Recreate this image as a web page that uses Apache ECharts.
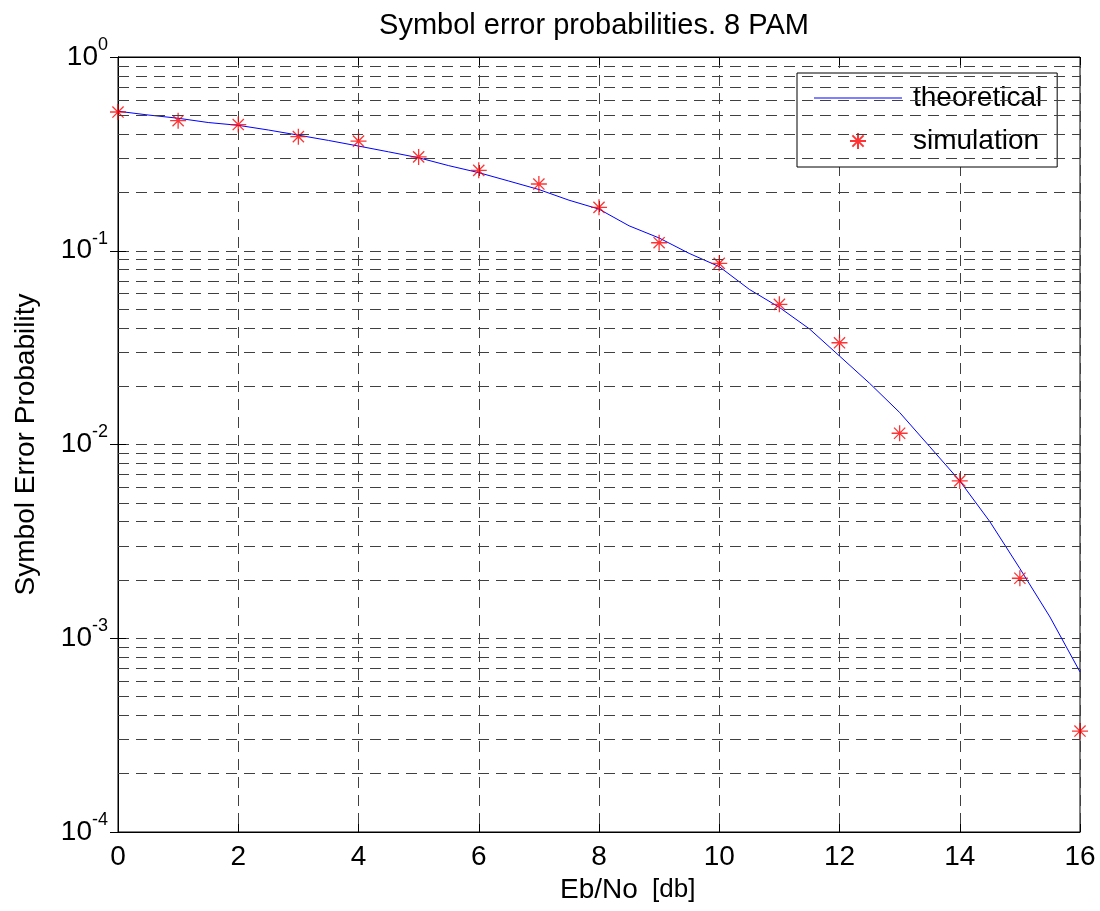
<!DOCTYPE html>
<html>
<head>
<meta charset="utf-8">
<script src="https://cdn.jsdelivr.net/npm/echarts@6/dist/echarts.min.js"></script>
<style>
html,body{margin:0;padding:0;background:#fff;}
#chart{width:1100px;height:911px;}
</style>
</head>
<body>
<div id="chart"></div>
<script>
// ---- data ----
var theoX = [0,0.5,1,1.5,2,2.5,3,3.5,4,4.5,5,5.5,6,6.5,7,7.5,8,8.5,9,9.5,10,10.5,11,11.5,12,12.5,13,13.5,14,14.5,15,15.5,16];
var theoY = [0.525,0.502,0.483,0.459,0.444,0.420,0.395,0.371,0.347,0.324,0.302,0.275,0.253,0.229,0.207,0.1824,0.164,0.1345,0.1164,0.0969,0.0828,0.0632,0.0510,0.0395,0.02862,0.0207,0.01463,0.00975,0.00649,0.00400,0.00229,0.001288,0.000670];
var simX = [0,1,2,3,4,5,6,7,8,9,10,11,12,13,14,15,16];
var simY = [0.52,0.469,0.448,0.388,0.368,0.305,0.260,0.221,0.1675,0.110,0.0861,0.0529,0.0335,0.01143,0.00649,0.00204,0.000332];
var minorGrid = [];
var decades = [1e-4,1e-3,1e-2,1e-1];
var minorMult = [2,3,4,5,6,7,8,9];
decades.forEach(function(d){ minorMult.forEach(function(m){ minorGrid.push(+(d*m).toPrecision(3)); }); });

var FONT = '"Liberation Sans", Arial, Helvetica, sans-serif';
var GRID_COLOR = '#404040';
var DASH = [11,7];

function pair(xs, ys){ return xs.map(function(x,i){ return [x, ys[i]]; }); }

var chart = echarts.init(document.getElementById('chart'), null, {renderer:'canvas'});
var starPath = 'path://M0,-8 L0,8 M-8,0 L8,0 M-5.6,-5.6 L5.6,5.6 M-5.6,5.6 L5.6,-5.6';
var lineIcon = 'path://M0,0 L88,0 L88,1.2 L0,1.2 Z';

var option = {
  animation: false,
  backgroundColor: '#fff',
  textStyle: {fontFamily: FONT},
  title: {
    text: 'Symbol error probabilities. 8 PAM',
    left: 589, top: 6, textAlign: 'center',
    textStyle: {fontFamily: FONT, fontSize: 29, fontWeight: 'normal', color: '#000'}
  },
  grid: {left: 118, right: 20, top: 57, bottom: 79, show: true, borderColor: '#000', borderWidth: 1, backgroundColor: '#fff'},
  legend: {
    orient: 'vertical', left: 797, top: 73,
    backgroundColor: '#fff', borderColor: '#000', borderWidth: 1,
    padding: [10, 15, 11, 17],
    itemWidth: 88, itemHeight: 16, itemGap: 13,
    textStyle: {fontFamily: FONT, fontSize: 28, color: '#000', lineHeight: 30, padding: [0, 0, 0, 6]},
    data: [{name: 'theoretical', icon: lineIcon, itemStyle: {color: '#0000ff', borderWidth: 0}}, {name: 'simulation'}]
  },
  xAxis: [{
    type: 'value', min: 0, max: 16, interval: 2,
    name: 'Eb/No', nameLocation: 'middle', nameGap: 44,
    nameTextStyle: {fontFamily: FONT, fontSize: 28, color: '#000'},
    axisLine: {show: true, lineStyle: {color: '#000', width: 1}},
    axisTick: {show: true, inside: true, length: 8, lineStyle: {color: '#000'}},
    axisLabel: {fontFamily: FONT, fontSize: 28, color: '#000', margin: 11},
    splitLine: {show: true, lineStyle: {type: DASH, color: GRID_COLOR, width: 1}}
  }, {
    type: 'value', min: 0, max: 16, interval: 2, position: 'top',
    axisLine: {show: true, lineStyle: {color: '#000'}},
    axisTick: {show: true, inside: true, length: 8, lineStyle: {color: '#000'}},
    axisLabel: {show: false}, splitLine: {show: false}
  }],
  yAxis: [{
    type: 'log', logBase: 10, min: 1e-4, max: 1, interval: 1,
    name: 'Symbol Error Probability', nameLocation: 'middle', nameGap: 78,
    nameTextStyle: {fontFamily: FONT, fontSize: 28, color: '#000'},
    axisLine: {show: true, lineStyle: {color: '#000', width: 1}},
    axisTick: {show: true, inside: true, length: 8, lineStyle: {color: '#000'}},
    axisLabel: {
      margin: 10,
      formatter: function(v){ var e = Math.round(Math.log10(v)); return '{b|10}{s|' + e + '}'; },
      rich: {
        b: {fontFamily: FONT, fontSize: 28, color: '#000', lineHeight: 44},
        s: {fontFamily: FONT, fontSize: 18, color: '#000', padding: [0,0,24,0], lineHeight: 44}
      }
    },
    splitLine: {show: true, lineStyle: {type: DASH, color: GRID_COLOR, width: 1}}
  }, {
    type: 'log', logBase: 10, min: 1e-4, max: 1, interval: 1, position: 'right',
    axisLine: {show: true, lineStyle: {color: '#000'}},
    axisTick: {show: true, inside: true, length: 8, lineStyle: {color: '#000'}},
    axisLabel: {show: false}, splitLine: {show: false}
  }],
  graphic: [{
    type: 'text', left: 652, top: 877,
    style: {text: '[db]', fontFamily: FONT, fontSize: 26, fill: '#000'}
  }],
  series: [{
    name: 'theoretical', type: 'line', data: pair(theoX, theoY),
    symbol: 'none', smooth: false,
    lineStyle: {color: '#0000ff', width: 1},
    itemStyle: {color: '#0000ff'},
    z: 3,
    markLine: {
      silent: true, symbol: 'none', animation: false, precision: 8,
      label: {show: false},
      lineStyle: {type: DASH, color: GRID_COLOR, width: 1},
      emphasis: {disabled: true},
      data: minorGrid.map(function(v){ return {yAxis: v}; })
    }
  }, {
    name: 'simulation', type: 'scatter', data: pair(simX, simY),
    symbol: starPath, symbolSize: 16,
    itemStyle: {color: 'rgba(0,0,0,0)', borderColor: '#ff0000', borderWidth: 1.3},
    z: 4
  }]
};
chart.setOption(option);
</script>
</body>
</html>
